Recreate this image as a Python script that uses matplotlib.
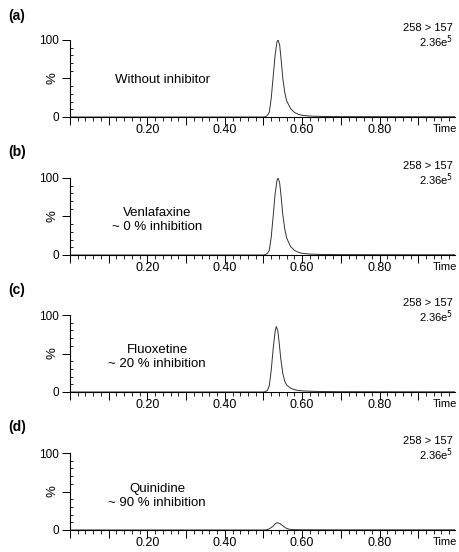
import matplotlib
matplotlib.use("Agg")
import matplotlib.pyplot as plt
from matplotlib.ticker import MultipleLocator, FixedLocator

plt.rcParams['font.family'] = ['Liberation Sans', 'DejaVu Sans']

# retention time (min) and relative intensity (%)
time_ab = [0.0, 0.30, 0.50, 0.505, 0.510, 0.515, 0.520, 0.525, 0.530, 0.535, 0.538,
           0.542, 0.546, 0.550, 0.555, 0.560, 0.570, 0.580, 0.590, 0.600, 0.620,
           0.650, 0.700, 0.800, 1.0]
int_a = [0, 0, 0, 0.5, 2, 6, 24, 52, 80, 98, 100, 93, 73, 50, 32, 21, 11, 6,
         3.5, 2.2, 1.2, 0.7, 0.5, 0.4, 0.3]
int_b = [0, 0, 0, 0.5, 2, 6, 23, 50, 79, 97, 100, 93, 74, 52, 34, 22, 11, 6,
         3.5, 2.2, 1.2, 0.7, 0.5, 0.4, 0.3]
time_c = [0.0, 0.30, 0.500, 0.505, 0.510, 0.515, 0.520, 0.525, 0.530, 0.533,
          0.537, 0.541, 0.545, 0.550, 0.555, 0.560, 0.570, 0.580, 0.590, 0.600,
          0.620, 0.650, 0.700, 0.800, 1.0]
int_c = [0, 0, 0, 0.5, 2, 8, 28, 56, 78, 85, 80, 62, 42, 24, 14, 9, 5, 3,
         2, 1.5, 1, 0.6, 0.4, 0.3, 0.2]
time_d = [0.0, 0.30, 0.505, 0.515, 0.525, 0.530, 0.536, 0.542, 0.550, 0.558,
          0.565, 0.575, 0.600, 0.700, 1.0]
int_d = [0, 0, 0, 1.5, 5, 8, 9.5, 8.5, 5.5, 2.5, 1.2, 0.5, 0.3, 0.2, 0.2]

panel_labels = ['(a)', '(b)', '(c)', '(d)']
annotations = ['Without inhibitor', 'Venlafaxine\n~ 0 % inhibition',
               'Fluoxetine\n~ 20 % inhibition', 'Quinidine\n~ 90 % inhibition']
annot_x = [0.238, 0.225, 0.225, 0.225]
annot_y = [48, 45, 45, 44]
traces = [(time_ab, int_a), (time_ab, int_b), (time_c, int_c), (time_d, int_d)]
x_ticks = [0.2, 0.4, 0.6, 0.8]
x_tick_labels = ['0.20', '0.40', '0.60', '0.80']

W, H = 460, 552
fig = plt.figure(figsize=(W / 100, H / 100), dpi=100)

axis_bottoms = [117, 255, 392, 530]   # pixel row of the 0 line
label_rows = [16, 152, 290, 427]
ax_h = 77
ax_left, ax_right = 70, 455

for i in range(4):
    b = axis_bottoms[i]
    ax = fig.add_axes([ax_left / W, 1 - b / H, (ax_right - ax_left) / W, ax_h / H])
    t, y = traces[i]
    ax.plot(t, y, color='#333333', lw=0.7)
    ax.set_xlim(0, 0.995)
    ax.set_ylim(0, 100)

    for s in ['top', 'right']:
        ax.spines[s].set_visible(False)
    ax.spines['left'].set_linewidth(0.8)
    ax.spines['bottom'].set_linewidth(0.8)

    ax.xaxis.set_major_locator(MultipleLocator(0.1))
    ax.xaxis.set_minor_locator(MultipleLocator(0.02))
    ax.set_xticklabels([])
    ax.tick_params(axis='x', which='major', length=6, width=0.7, direction='out')
    ax.tick_params(axis='x', which='minor', length=3, width=0.6, direction='out')
    for xt, lab in zip(x_ticks, x_tick_labels):
        ax.text(xt, -0.09, lab, transform=ax.get_xaxis_transform(),
                ha='center', va='top', fontsize=9)
    ax.text(1.005, -0.09, 'Time', transform=ax.transAxes, ha='right', va='top',
            fontsize=8)

    ax.yaxis.set_major_locator(FixedLocator([0, 50, 100]))
    ax.yaxis.set_minor_locator(MultipleLocator(10))
    ax.set_yticklabels(['0', '%', '100'], fontsize=8.5)
    ax.tick_params(axis='y', which='major', length=6, width=0.7, direction='out', pad=2)
    ax.tick_params(axis='y', which='minor', length=2, width=0.6, direction='in')
    ax.get_yticklabels()[1].set_rotation(90)
    ax.get_yticklabels()[1].set_va('center')
    ax.get_yticklabels()[1].set_fontsize(9.5)

    ax.text(annot_x[i], annot_y[i], annotations[i], ha='center', va='center',
            fontsize=9.5, linespacing=1.2)
    ax.text(0.995, 1.155, '258 > 157', transform=ax.transAxes, ha='right',
            va='center', fontsize=8)
    ax.text(0.995, 0.975, r'2.36e$^{5}$', transform=ax.transAxes, ha='right',
            va='center', fontsize=8)

    fig.text(8 / W, 1 - label_rows[i] / H, panel_labels[i], fontsize=10,
             fontweight='bold', ha='left', va='center')

fig.savefig('out.png', dpi=100)
